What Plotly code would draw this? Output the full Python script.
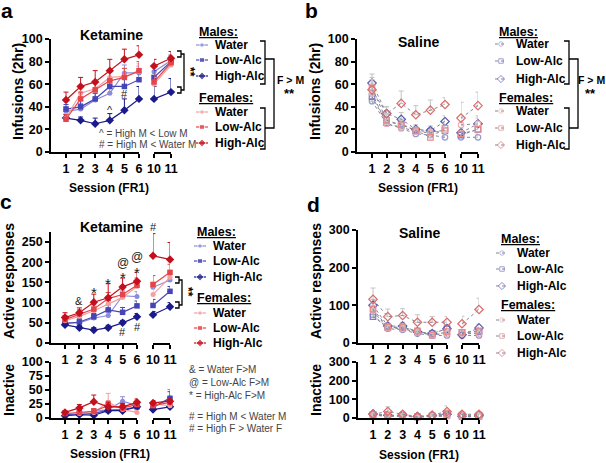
import plotly.graph_objects as go

W, H = 606, 463
FONT = "Arial, Liberation Sans, sans-serif"

sessions = [1, 2, 3, 4, 5, 6, 10, 11]
session_labels = ["1", "2", "3", "4", "5", "6", "10", "11"]
groups = ["Water", "Low-Alc", "High-Alc"]

# ---- Panel a: Ketamine infusions (2hr) ----
a_m_water = [36, 38, 46, 52, 70, 70, 71, 81]
a_m_low = [38, 40, 47, 58, 58, 64, 66, 80]
a_m_high = [30, 28, 25, 28, 37, 47, 47, 53]
a_f_water = [30, 52, 56, 66, 67, 71, 60, 77]
a_f_low = [29, 47, 55, 63, 66, 72, 62, 79]
a_f_high = [46, 58, 62, 72, 82, 86, 76, 83]
a_m_water_err = [4, 5, 6, 6, 7, 6, 6, 5]
a_m_low_err = [4, 6, 5, 6, 8, 7, 6, 5]
a_m_high_err = [3, 3, 5, 6, 10, 11, 11, 12]
a_f_water_err = [4, 6, 7, 7, 7, 7, 6, 5]
a_f_low_err = [4, 6, 7, 8, 8, 8, 6, 5]
a_f_high_err = [7, 8, 10, 10, 9, 8, 6, 6]

# ---- Panel b: Saline infusions (2hr) ----
b_m_water = [45, 25, 21, 16, 15, 13, 13, 13]
b_m_low = [49, 26, 25, 19, 18, 19, 15, 20]
b_m_high = [61, 34, 29, 20, 19, 27, 17, 25]
b_f_water = [52, 25, 22, 18, 17, 19, 24, 25]
b_f_low = [57, 28, 24, 19, 13, 21, 16, 20]
b_f_high = [55, 34, 43, 33, 37, 42, 30, 41]
b_m_water_err = [5, 4, 3, 3, 3, 3, 3, 3]
b_m_low_err = [6, 5, 4, 3, 3, 4, 3, 4]
b_m_high_err = [8, 6, 6, 4, 4, 5, 4, 7]
b_f_water_err = [6, 4, 4, 3, 3, 4, 4, 5]
b_f_low_err = [7, 5, 4, 3, 3, 4, 3, 4]
b_f_high_err = [11, 6, 11, 8, 9, 6, 14, 12]

# ---- Panel c: Ketamine active / inactive responses ----
c_m_water = [50, 50, 62, 68, 117, 115, 138, 156]
c_m_low = [48, 52, 65, 82, 76, 92, 93, 128]
c_m_high = [45, 38, 32, 38, 50, 65, 70, 90]
c_f_water = [55, 66, 80, 97, 113, 140, 120, 163]
c_f_low = [58, 72, 84, 110, 120, 143, 145, 175]
c_f_high = [63, 75, 101, 112, 139, 153, 216, 207]
c_m_water_err = [6, 8, 10, 12, 14, 12, 12, 10]
c_m_low_err = [6, 8, 8, 12, 12, 12, 15, 12]
c_m_high_err = [5, 5, 6, 6, 6, 8, 8, 10]
c_f_water_err = [8, 10, 12, 12, 15, 15, 20, 15]
c_f_low_err = [10, 10, 12, 15, 15, 18, 22, 20]
c_f_high_err = [12, 12, 20, 35, 22, 22, 55, 42]

ci_m_water = [5, 8, 12, 15, 30, 22, 18, 36]
ci_m_low = [6, 8, 8, 14, 15, 20, 20, 35]
ci_m_high = [4, 6, 5, 13, 13, 20, 15, 20]
ci_f_water = [8, 8, 10, 28, 15, 10, 25, 22]
ci_f_low = [8, 10, 12, 22, 18, 24, 22, 28]
ci_f_high = [10, 18, 29, 20, 20, 28, 27, 30]
ci_m_water_err = [3, 4, 5, 6, 8, 6, 5, 15]
ci_m_low_err = [3, 4, 4, 5, 6, 6, 5, 12]
ci_m_high_err = [2, 3, 3, 4, 4, 5, 4, 6]
ci_f_water_err = [3, 4, 5, 16, 6, 4, 5, 6]
ci_f_low_err = [3, 4, 5, 8, 6, 6, 5, 8]
ci_f_high_err = [3, 6, 12, 8, 6, 6, 4, 6]

# ---- Panel d: Saline active / inactive responses ----
d_m_water = [75, 38, 35, 25, 20, 20, 20, 20]
d_m_low = [70, 42, 40, 30, 25, 38, 28, 30]
d_m_high = [100, 45, 45, 30, 25, 38, 22, 40]
d_f_water = [85, 40, 38, 28, 22, 25, 25, 25]
d_f_low = [90, 42, 42, 32, 20, 30, 28, 32]
d_f_high = [116, 70, 73, 55, 55, 55, 51, 89]
d_m_water_err = [12, 6, 6, 5, 4, 5, 4, 5]
d_m_low_err = [12, 8, 8, 6, 5, 8, 5, 8]
d_m_high_err = [15, 8, 10, 6, 5, 8, 5, 10]
d_f_water_err = [12, 6, 6, 5, 4, 5, 4, 5]
d_f_low_err = [15, 8, 8, 6, 5, 8, 5, 8]
d_f_high_err = [30, 20, 18, 20, 15, 15, 20, 30]

di_m_water = [15, 10, 10, 5, 8, 10, 5, 8]
di_m_low = [18, 12, 12, 6, 10, 15, 8, 10]
di_m_high = [22, 15, 15, 8, 12, 20, 10, 12]
di_f_water = [15, 10, 10, 5, 10, 12, 8, 10]
di_f_low = [20, 15, 12, 6, 12, 25, 15, 15]
di_f_high = [20, 35, 20, 8, 15, 35, 20, 20]
di_m_water_err = [4, 4, 4, 3, 4, 5, 3, 4]
di_m_low_err = [5, 5, 5, 3, 5, 6, 4, 5]
di_m_high_err = [5, 5, 5, 3, 5, 8, 4, 5]
di_f_water_err = [4, 4, 4, 3, 4, 5, 3, 4]
di_f_low_err = [5, 5, 5, 3, 5, 10, 4, 5]
di_f_high_err = [5, 25, 15, 5, 10, 30, 8, 10]

M_COL = {"Water": "#8c8cd9", "Low-Alc": "#4545b5", "High-Alc": "#1a1a8a"}
F_COL = {"Water": "#f4a0a0", "Low-Alc": "#e5454a", "High-Alc": "#c4101c"}
M_COL_S = {"Water": "#9a9ad0", "Low-Alc": "#7a7ac4", "High-Alc": "#5a5ab0"}
F_COL_S = {"Water": "#f0b0b0", "Low-Alc": "#e88a8a", "High-Alc": "#dc6a6a"}
SYM = {"Water": "circle", "Low-Alc": "square", "High-Alc": "diamond"}
SIZE = {"Water": 5, "Low-Alc": 5.5, "High-Alc": 6.5}
SIZE_S = {"Water": 5.5, "Low-Alc": 5.5, "High-Alc": 6.5}

fig = go.Figure()
layout = dict()


def axname(prefix, n):
    return prefix + ("" if n == 1 else str(n))


def add_axes(nx1, nx2, ny, ytop, ybot, yrng, yticks, x0, xt1, xt6, x10, x11):
    sp = (xt6 - xt1) / 5.0
    tickfont = dict(family=FONT, size=12.5, color="black", weight="bold")
    common = dict(ticks="outside", ticklen=4, tickwidth=1.5, tickcolor="black",
                  showline=True, linecolor="black", linewidth=1.6, showgrid=False,
                  zeroline=False, tickfont=tickfont, fixedrange=True, automargin=False)
    layout[axname("xaxis", nx1)] = dict(domain=[x0 / W, xt6 / W], range=[1 - (xt1 - x0) / sp, 6],
                                        tickvals=sessions[:6], ticktext=session_labels[:6],
                                        anchor=axname("y", ny), **common)
    layout[axname("xaxis", nx2)] = dict(domain=[x10 / W, x11 / W], range=[10, 11],
                                        tickvals=sessions[6:], ticktext=session_labels[6:],
                                        anchor=axname("y", ny), **common)
    layout[axname("yaxis", ny)] = dict(domain=[1 - ybot / H, 1 - ytop / H], range=yrng,
                                       tickvals=yticks, anchor=axname("x", nx1), **common)


def add_series(nx1, nx2, ny, data, saline):
    for sex, cols in (("M", M_COL_S if saline else M_COL), ("F", F_COL_S if saline else F_COL)):
        for g in groups:
            vals, errs = data[(sex, g)]
            col = cols[g]
            for sl, xa in ((slice(0, 6), nx1), (slice(6, 8), nx2)):
                if saline:
                    marker = dict(symbol=SYM[g] + "-open", size=SIZE_S[g], color=col,
                                  line=dict(width=1.2, color=col))
                    line = dict(color="#85859a", width=1, dash="dot")
                    ecol = "#c4c4c4"
                else:
                    marker = dict(symbol=SYM[g], size=SIZE[g], color=col)
                    line = dict(color=col, width=1.2)
                    ecol = col
                fig.add_trace(go.Scatter(
                    x=sessions[sl], y=vals[sl], mode="lines+markers",
                    xaxis=axname("x", xa), yaxis=axname("y", ny),
                    marker=marker, line=line, cliponaxis=False, showlegend=False,
                    error_y=dict(type="data", array=errs[sl], arrayminus=[0] * len(errs[sl]),
                                 symmetric=False, color=ecol, thickness=1, width=2.5)))


def mk(pref, scope):
    return {(s, g): (scope[f"{pref}_{s.lower()}_{k}"], scope[f"{pref}_{s.lower()}_{k}_err"])
            for s in ("M", "F") for g, k in zip(groups, ("water", "low", "high"))}


G = globals()
add_axes(1, 2, 1, 39, 152, [0, 100], [0, 20, 40, 60, 80, 100], 51, 66, 139, 154, 171)
add_series(1, 2, 1, mk("a", G), False)
add_axes(3, 4, 2, 39, 152, [0, 100], [0, 20, 40, 60, 80, 100], 357, 372, 445, 461, 478)
add_series(3, 4, 2, mk("b", G), True)
add_axes(5, 6, 3, 232, 343, [0, 275], [0, 50, 100, 150, 200, 250], 51, 65, 137, 153, 170)
add_series(5, 6, 3, mk("c", G), False)
add_axes(7, 8, 4, 362, 418, [0, 100], [0, 25, 50, 75, 100], 51, 65, 137, 153, 170)
add_series(7, 8, 4, mk("ci", G), False)
add_axes(9, 10, 5, 230, 343, [0, 300], [0, 100, 200, 300], 358, 373, 447, 462, 479)
add_series(9, 10, 5, mk("d", G), True)
add_axes(11, 12, 6, 362, 418, [0, 300], [0, 100, 200, 300], 358, 373, 447, 462, 479)
add_series(11, 12, 6, mk("di", G), True)

# overlay pixel axes for decorations (legends, brackets, labels)
layout["xaxis13"] = dict(domain=[0, 1], range=[0, W], visible=False, fixedrange=True,
                         anchor="y7", automargin=False)
layout["yaxis7"] = dict(domain=[0, 1], range=[H, 0], visible=False, fixedrange=True,
                        anchor="x13", automargin=False)

annotations = []
shapes = []


def txt(x, y, s, size=12, bold=True, color="black", xanchor="center", angle=0, xref="x13", yref="y7"):
    annotations.append(dict(x=x, y=y, xref=xref, yref=yref, text=s, showarrow=False,
                            xanchor=xanchor, yanchor="middle", textangle=angle,
                            font=dict(family=FONT, size=size, color=color,
                                      weight="bold" if bold else "normal")))


def path(pts_list):
    d = ""
    for pts in pts_list:
        d += "M " + " L ".join(f"{x},{y}" for x, y in pts) + " "
    shapes.append(dict(type="path", path=d, xref="x13", yref="y7",
                       line=dict(color="black", width=1.3)))


def legend(xh, xm, xt, ymh, ym, yfh, yf, saline):
    mc = M_COL_S if saline else M_COL
    fc = F_COL_S if saline else F_COL
    txt(xh, ymh, "<u>Males:</u>", 12.5, xanchor="left")
    txt(xh, yfh, "<u>Females:</u>", 12.5, xanchor="left")
    for cols, ys in ((mc, ym), (fc, yf)):
        for g, y in zip(groups, ys):
            col = cols[g]
            if saline:
                marker = dict(symbol=SYM[g] + "-open", size=[0, SIZE_S[g] - 1, 0], color=col,
                              line=dict(width=1, color=col))
                line = dict(color="#85859a", width=1, dash="dot")
            else:
                marker = dict(symbol=SYM[g], size=[0, SIZE[g] - 0.5, 0], color=col)
                line = dict(color=col, width=1.2)
            fig.add_trace(go.Scatter(x=[xm - 6, xm, xm + 6], y=[y, y, y], mode="lines+markers",
                                     xaxis="x13", yaxis="y7", marker=marker, line=line,
                                     showlegend=False, hoverinfo="skip", cliponaxis=False))
            txt(xt, y, g, 12, xanchor="left")


legend(197, 202, 213, 32, [45, 60, 76], 98, [112, 127, 143], False)
legend(497, 501, 514, 32, [44, 61, 79], 98, [111, 128, 145], True)
legend(195, 200, 211, 232, [246, 261, 277], 298, [313, 328, 343], False)
legend(499, 502, 515, 239, [253, 269, 286], 305, [320, 336, 353], True)

for bx in (260, 564):
    path([[(bx, 41), (bx + 5, 41), (bx + 5, 84), (bx, 84)],
          [(bx, 108), (bx + 5, 108), (bx + 5, 149), (bx, 149)],
          [(bx + 5, 59), (bx + 14, 59), (bx + 14, 128), (bx + 5, 128)]])
txt(290, 80, "F &gt; M", 10.5)
txt(289, 93, "**", 13)
txt(591, 80, "F &gt; M", 10.5)
txt(590, 93, "**", 13)

path([[(177, 51), (181, 51), (181, 57), (177, 57)],
      [(181, 54), (184, 54), (184, 90), (181, 90)],
      [(177, 87), (181, 87), (181, 93), (177, 93)]])
txt(190, 72, "**", 12, angle=90)
path([[(175, 277), (179, 277), (179, 283), (175, 283)],
      [(179, 280), (182, 280), (182, 305), (179, 305)],
      [(175, 302), (179, 302), (179, 308), (175, 308)]])
txt(188, 292, "**", 12, angle=90)

txt(111, 35, "Ketamine", 14)
txt(418, 42, "Saline", 14)
txt(111, 227, "Ketamine", 14)
txt(419, 233, "Saline", 14)

txt(7, 10, "a", 21)
txt(311, 10, "b", 21)
txt(6, 201, "c", 21)
txt(313, 204, "d", 21)

txt(18, 92, "Infusions (2hr)", 14, angle=-90)
txt(315, 92, "Infusions (2hr)", 14, angle=-90)
txt(9, 281, "Active responses", 14, angle=-90)
txt(316, 281, "Active responses", 14, angle=-90)
txt(9, 390, "Inactive", 14, angle=-90)
txt(316, 390, "Inactive", 14, angle=-90)
txt(109, 188, "Session (FR1)", 12)
txt(418, 188, "Session (FR1)", 12)
txt(110, 454, "Session (FR1)", 12)
txt(419, 455, "Session (FR1)", 12)

txt(97, 133, "^ = High M &lt; Low M", 10, bold=False, color="#444", xanchor="left")
txt(97, 144, "# = High M &lt; Water M", 10, bold=False, color="#444", xanchor="left")
for y, s in zip([369, 382, 395, 416, 428],
                ["&amp; = Water F&gt;M", "@ = Low-Alc F&gt;M", "* = High-Alc F&gt;M",
                 "# = High M &lt; Water M", "# = High F &gt; Water F"]):
    txt(187, y, s, 10, bold=False, color="#444", xanchor="left")


def sym(x, y, s, xref, yref, size=11, yshift=0):
    annotations.append(dict(x=x, y=y, xref=xref, yref=yref, text=s, showarrow=False,
                            yshift=yshift, font=dict(family=FONT, size=size, color="#222")))


sym(4, 39, "^", "x", "y", 11, -2)
sym(5, 51, "#", "x", "y", 11)
sym(2, 103, "&amp;", "x5", "y3", 11)
for xs, ys in ((3, 135), (4, 157), (5, 173), (6, 185)):
    sym(xs, ys, "*", "x5", "y3", 15, -4)
sym(5, 198, "@", "x5", "y3", 12)
sym(6, 213, "@", "x5", "y3", 12)
sym(5, 27, "#", "x5", "y3", 11)
sym(6, 40, "#", "x5", "y3", 11)
annotations.append(dict(x=10, y=1 - 227 / H, xref="x6", yref="paper", text="#", showarrow=False,
                        font=dict(family=FONT, size=11, color="#222")))

layout.update(dict(template="none", width=W, height=H,
                   margin=dict(l=0, r=0, t=0, b=0, pad=0, autoexpand=False),
                   paper_bgcolor="white", plot_bgcolor="rgba(0,0,0,0)",
                   showlegend=False, annotations=annotations, shapes=shapes,
                   font=dict(family=FONT)))
fig.update_layout(**layout)
fig.write_html("out.html", config={"displayModeBar": False},
               post_script="document.body.style.margin='0';document.body.style.overflow='hidden';")
